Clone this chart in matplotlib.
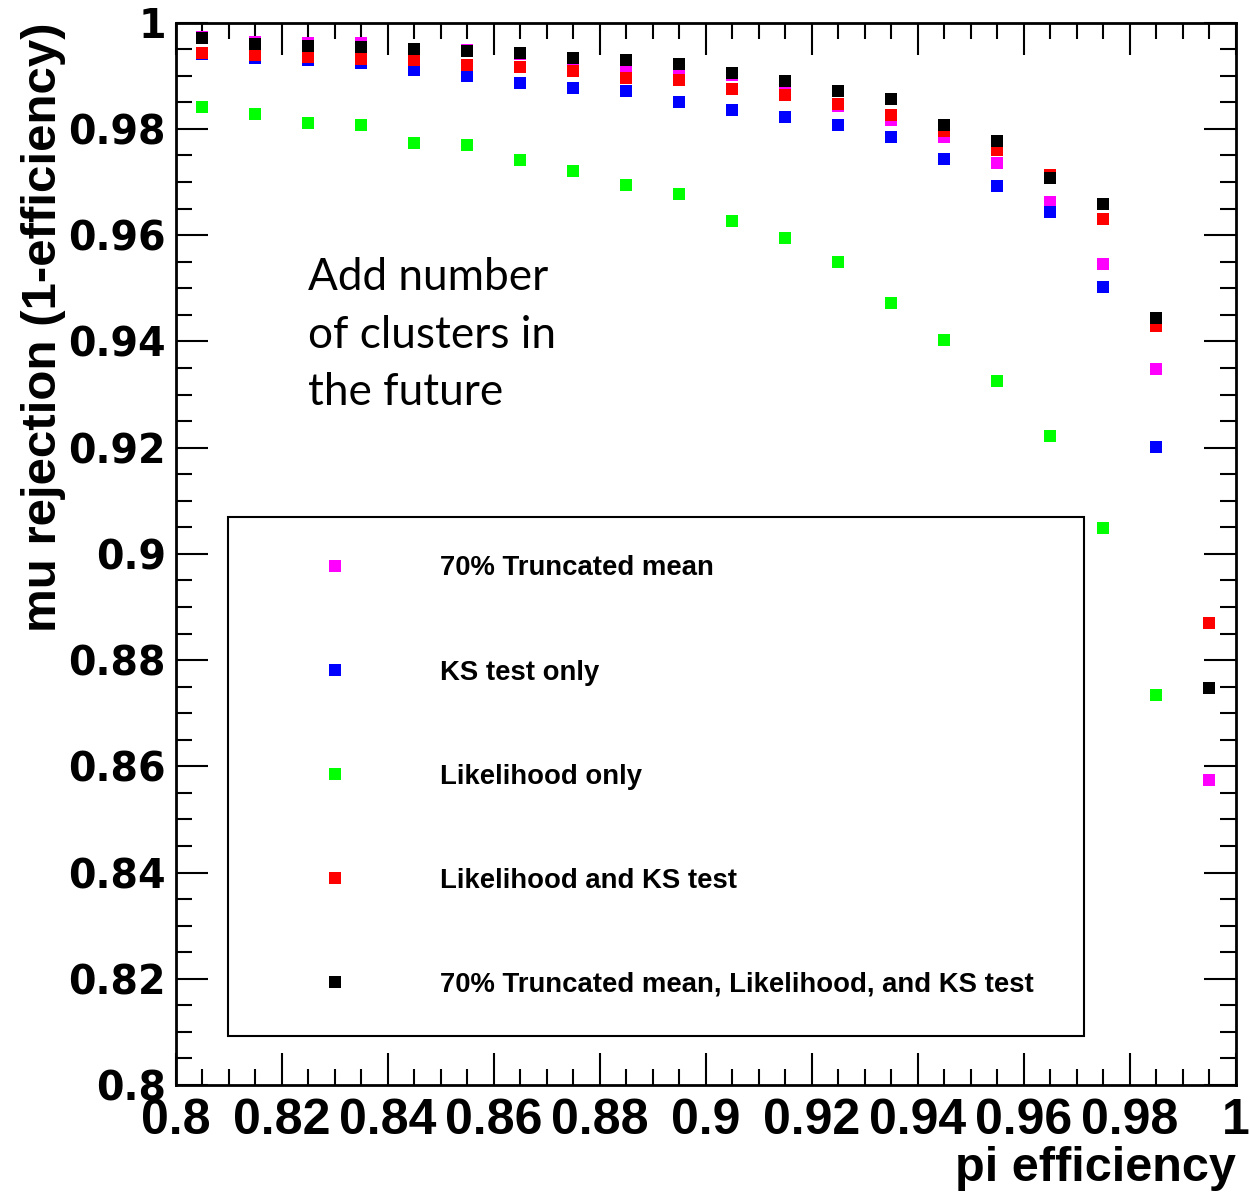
import matplotlib
matplotlib.use("Agg")
import matplotlib.pyplot as plt
from matplotlib.ticker import MultipleLocator

# pi efficiency points (bin centres)
pi_eff = [0.805, 0.815, 0.825, 0.835, 0.845, 0.855, 0.865, 0.875, 0.885, 0.895,
          0.905, 0.915, 0.925, 0.935, 0.945, 0.955, 0.965, 0.975, 0.985, 0.995]

# mu rejection for each method
trunc_mean = [0.9973, 0.9963, 0.9961, 0.9961, 0.9950, 0.9948, 0.9941, 0.9932, 0.9914, 0.9913,
              0.9902, 0.9873, 0.9844, 0.9816, 0.9785, 0.9736, 0.9663, 0.9546, 0.9348, 0.8574]
ks_only = [0.9941, 0.9934, 0.9929, 0.9925, 0.9911, 0.9900, 0.9887, 0.9878, 0.9872, 0.9851,
           0.9836, 0.9822, 0.9808, 0.9784, 0.9744, 0.9692, 0.9643, 0.9502, 0.9202]
lik_only = [0.9842, 0.9829, 0.9812, 0.9807, 0.9774, 0.9770, 0.9741, 0.9720, 0.9694, 0.9678,
            0.9626, 0.9595, 0.9550, 0.9472, 0.9402, 0.9326, 0.9221, 0.9048, 0.8734]
lik_ks = [0.9943, 0.9940, 0.9935, 0.9932, 0.9930, 0.9921, 0.9916, 0.9910, 0.9895, 0.9892,
          0.9876, 0.9864, 0.9846, 0.9827, 0.9796, 0.9760, 0.9714, 0.9631, 0.9429, 0.8870]
all_three = [0.9971, 0.9960, 0.9956, 0.9954, 0.9951, 0.9946, 0.9943, 0.9934, 0.9929, 0.9922,
             0.9906, 0.9890, 0.9872, 0.9856, 0.9807, 0.9778, 0.9707, 0.9658, 0.9444, 0.8748]

labels = ["70% Truncated mean", "KS test only", "Likelihood only",
          "Likelihood and KS test", "70% Truncated mean, Likelihood, and KS test"]
colors = ["#ff00ff", "#0000ff", "#00ff00", "#ff0000", "#000000"]

tick_vals = [0.8, 0.82, 0.84, 0.86, 0.88, 0.9, 0.92, 0.94, 0.96, 0.98, 1.0]
tick_labels = ["0.8", "0.82", "0.84", "0.86", "0.88", "0.9", "0.92", "0.94",
               "0.96", "0.98", "1"]

HELV = "Liberation Sans"

fig = plt.figure(figsize=(12.49, 11.93), dpi=100)
ax = fig.add_axes([175.7 / 1249, 108 / 1193, 1060.3 / 1249, 1062.3 / 1193])

series = [trunc_mean, ks_only, lik_only, lik_ks, all_three]
for vals, col, lab in zip(series, colors, labels):
    ax.plot(pi_eff[:len(vals)], vals, ls="none", marker="s", ms=8, mew=0,
            color=col, label=lab)

ax.set_xlim(0.8, 1.0)
ax.set_ylim(0.8, 1.0)

ax.xaxis.set_minor_locator(MultipleLocator(0.005))
ax.yaxis.set_minor_locator(MultipleLocator(0.005))
ax.tick_params(which="both", direction="in", top=True, right=True, width=1.5)
ax.tick_params(which="major", length=23)
ax.tick_params(which="minor", length=11.5)
ax.tick_params(axis="x", which="major", pad=9.5)
ax.tick_params(axis="y", which="major", pad=7)
for s in ax.spines.values():
    s.set_linewidth(2)

ax.set_xticks(tick_vals)
ax.set_xticklabels(tick_labels, fontfamily=HELV, fontweight="bold", fontsize=36)
ax.set_yticks(tick_vals)
ax.set_yticklabels(tick_labels, fontfamily="DejaVu Sans", fontweight="bold", fontsize=28.5)

ax.set_xlabel("pi efficiency", fontfamily=HELV, fontweight="bold", fontsize=35)
ax.xaxis.set_label_coords(1.0, -0.057)
ax.xaxis.label.set_ha("right")
ax.set_ylabel("mu rejection (1-efficiency)", fontfamily=HELV, fontweight="bold", fontsize=35.5)
ax.yaxis.set_label_coords(-0.125, 1.0)
ax.yaxis.label.set_va("center")
ax.yaxis.label.set_ha("right")

ax.text(0.1248, 0.779, "Add number\nof clusters in\nthe future", transform=ax.transAxes,
        fontfamily="Lato", fontsize=31.8, va="top", ha="left", linespacing=1.5)

leg = ax.legend(loc="upper left", bbox_to_anchor=(0.0493, 0.0471, 0.8073, 0.4876),
                mode="expand", borderaxespad=0, borderpad=1.4, labelspacing=2.84,
                handlelength=5.0, handletextpad=1.3, fancybox=False, framealpha=1,
                edgecolor="black", prop={"family": HELV, "weight": "bold", "size": 19.8})
leg.get_frame().set_linewidth(1.5)

fig.savefig("out.png", dpi=100)
